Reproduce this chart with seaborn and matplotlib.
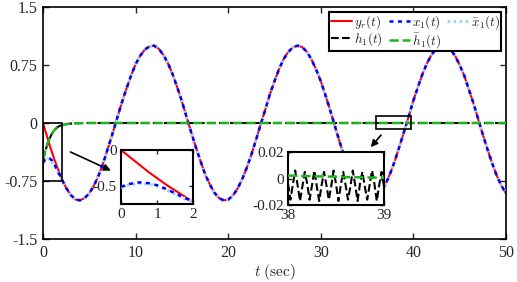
import numpy as np
import pandas as pd
import matplotlib
matplotlib.use("Agg")
import matplotlib.pyplot as plt
import seaborn as sns
from matplotlib.patches import Rectangle

# time grid, finer over the first 2 s (zoomed region)
t = np.concatenate([np.linspace(0, 2, 9), np.arange(2.5, 50.01, 0.5)])

# 0 .. 2 s (step 0.25)
yr_start = [0.0, -0.10, -0.20, -0.30, -0.39, -0.48, -0.56, -0.64, -0.72]
x1_start = [-0.51, -0.47, -0.45, -0.46, -0.49, -0.54, -0.60, -0.66, -0.72]
x1bar_start = [-0.52, -0.48, -0.46, -0.47, -0.50, -0.55, -0.61, -0.67, -0.72]
h1_start = [-0.48, -0.36, -0.27, -0.19, -0.13, -0.09, -0.06, -0.04, -0.03]
h1bar_start = [-0.47, -0.35, -0.26, -0.19, -0.13, -0.09, -0.06, -0.04, -0.03]

# 2.5 .. 50 s (step 0.5)
yr_tail = [-0.84, -0.93, -0.99, -1.00, -0.97, -0.91, -0.81, -0.68, -0.52, -0.33,
           -0.14, 0.06, 0.26, 0.44, 0.61, 0.76, 0.87, 0.95, 0.99, 1.00,
           0.96, 0.88, 0.77, 0.63, 0.46, 0.28, 0.08, -0.12, -0.31, -0.49,
           -0.66, -0.79, -0.90, -0.97, -1.00, -0.99, -0.94, -0.85, -0.73, -0.58,
           -0.41, -0.22, -0.02, 0.17, 0.37, 0.54, 0.70, 0.83, 0.92, 0.98,
           1.00, 0.98, 0.92, 0.82, 0.69, 0.54, 0.36, 0.17, -0.03, -0.23,
           -0.42, -0.59, -0.74, -0.86, -0.94, -0.99, -1.00, -0.97, -0.90, -0.79,
           -0.65, -0.49, -0.30, -0.11, 0.09, 0.29, 0.47, 0.64, 0.78, 0.89,
           0.96, 1.00, 0.99, 0.95, 0.87, 0.75, 0.61, 0.43, 0.25, 0.05,
           -0.15, -0.34, -0.52, -0.68, -0.81, -0.91]
h_tail = [-0.015, -0.008, -0.004, -0.002] + [0.0] * 92

# right zoom panel, 38 .. 39 s
h1_zoom = [-0.004, -0.016, -0.005, 0.006, -0.005, -0.017, -0.006, 0.005,
           -0.004, -0.016, -0.005, 0.006, -0.006, -0.017, -0.005, 0.005,
           -0.005, -0.016, -0.006, 0.006, -0.004, -0.017, -0.005, 0.005,
           -0.005, -0.016, -0.006, 0.006, -0.005, -0.017, -0.004, 0.005,
           -0.006, -0.016, -0.005, 0.006, -0.004, -0.017, -0.005, 0.005, -0.006]
h1bar_zoom = [0.0022, 0.0016, 0.0010, 0.0006]

labels = [r"$y_r(t)$", r"$x_1(t)$", r"$\bar{x}_1(t)$", r"$h_1(t)$", r"$\bar{h}_1(t)$"]

df = pd.DataFrame({
    "t": t,
    "yr": yr_start + yr_tail,
    "x1": x1_start + yr_tail,
    "x1bar": x1bar_start + yr_tail,
    "h1": h1_start + h_tail,
    "h1bar": h1bar_start + h_tail,
})
tz = np.linspace(38, 39, len(h1_zoom))
tzb = np.linspace(38, 39, len(h1bar_zoom))

sns.set_theme(style="ticks")
plt.rcParams.update({
    "font.family": ["Liberation Serif", "DejaVu Serif"],
    "mathtext.fontset": "cm",
    "axes.unicode_minus": False,
    "axes.edgecolor": "black",
    "axes.linewidth": 1.2,
})

styles = {
    "yr": dict(color="#ff0000", linestyle="-", lw=1.5, zorder=2),
    "x1": dict(color="#0000ff", linestyle=(0, (1.6, 1.8)), lw=1.8, zorder=4),
    "x1bar": dict(color="#a9d3f5", linestyle=(0, (0.8, 1.0)), lw=2.4, zorder=3),
    "h1": dict(color="black", linestyle="--", lw=1.5, zorder=5),
    "h1bar": dict(color="#1fb41f", linestyle="--", lw=1.8, zorder=6),
}
cols = ["yr", "x1", "x1bar", "h1", "h1bar"]

fig = plt.figure(figsize=(5.17, 2.82), dpi=100)
ax = fig.add_axes([0.0832, 0.1525, 0.8955, 0.8227])
for c, lab in zip(cols, labels):
    sns.lineplot(data=df, x="t", y=c, ax=ax, label=lab, **styles[c])

ax.set_xlim(0, 50)
ax.set_ylim(-1.5, 1.5)
ax.set_xticks([0, 10, 20, 30, 40, 50])
ax.set_yticks([-1.5, -0.75, 0, 0.75, 1.5])
ax.set_yticklabels(["-1.5", "-0.75", "0", "0.75", "1.5"])
ax.tick_params(direction="in", length=4, width=1, labelsize=11.5, top=True, right=True, pad=4)
ax.set_xlabel(r"$t\ \mathrm{(sec)}$", fontsize=11, labelpad=1)
ax.set_ylabel("")

h, l = ax.get_legend_handles_labels()
order = [0, 3, 1, 4, 2]
leg = ax.legend([h[i] for i in order], [l[i] for i in order], ncol=3, loc="upper right",
                fontsize=9.5, frameon=True, fancybox=False, edgecolor="black", framealpha=1,
                borderpad=0.1, labelspacing=0.0, handlelength=1.6, handletextpad=0.2,
                columnspacing=0.4, borderaxespad=0.35)
leg.get_frame().set_linewidth(1.5)
leg.set_zorder(10)

# zoom boxes and arrows
ax.add_patch(Rectangle((0, -0.75), 2, 0.75, fill=False, ec="black", lw=1.2, zorder=7))
ax.add_patch(Rectangle((36, -0.08), 3.7, 0.17, fill=False, ec="black", lw=1.2, zorder=7))
arr = dict(arrowstyle="-|>", color="black", lw=1.2, mutation_scale=10)
ax.annotate("", xy=(7.6, -0.63), xytext=(2.7, -0.36), arrowprops=arr)
ax.annotate("", xy=(35.2, -0.34), xytext=(36.7, -0.13), arrowprops=arr)

# left inset
ax1 = fig.add_axes([121 / 517, 1 - 204 / 282, 72 / 517, 54 / 282])
sub = df[df["t"] <= 2]
for c in ["yr", "x1", "x1bar"]:
    sns.lineplot(data=sub, x="t", y=c, ax=ax1, legend=False, **styles[c])
ax1.set_xlim(0, 2)
ax1.set_ylim(-0.75, 0)
ax1.set_xticks([0, 1, 2])
ax1.set_yticks([-0.5, 0])
ax1.set_yticklabels(["-0.5", "0"])
ax1.set_xlabel("")
ax1.set_ylabel("")
ax1.tick_params(direction="in", length=3, width=1, labelsize=11, top=True, right=True, pad=3)
for s in ax1.spines.values():
    s.set_linewidth(1.5)

# right inset
ax2 = fig.add_axes([288 / 517, 1 - 205 / 282, 96 / 517, 53 / 282])
sns.lineplot(x=tz, y=h1_zoom, ax=ax2, legend=False, **styles["h1"])
sns.lineplot(x=tzb, y=h1bar_zoom, ax=ax2, legend=False, **styles["h1bar"])
ax2.set_xlim(38, 39)
ax2.set_ylim(-0.02, 0.02)
ax2.set_xticks([38, 39])
ax2.set_yticks([-0.02, 0, 0.02])
ax2.set_yticklabels(["-0.02", "0", "0.02"])
ax2.tick_params(direction="in", length=3, width=1, labelsize=11, top=True, right=True, pad=3)
for s in ax2.spines.values():
    s.set_linewidth(1.5)

fig.savefig("out.png", dpi=100)
